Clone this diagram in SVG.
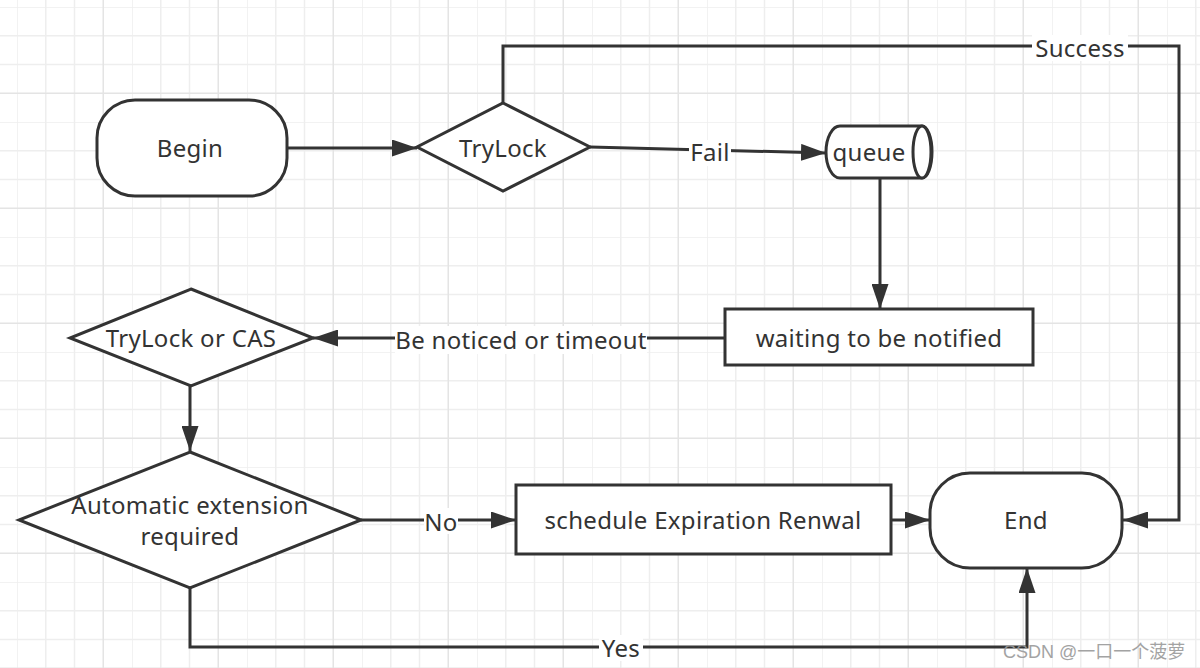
<svg xmlns="http://www.w3.org/2000/svg" width="1200" height="668" viewBox="0 0 1200 668">
  <defs>
    <pattern id="grid" patternUnits="userSpaceOnUse" x="17" y="7" width="115" height="115">
      <path d="M0 0V115M28.75 0V115M57.5 0V115M0 0H115M0 28.75H115M0 57.5H115" stroke="#eeeeee" stroke-width="1.5" fill="none"/>
      <path d="M86.25 0V115M0 86.25H115" stroke="#e4e4e4" stroke-width="1.5" fill="none"/>
    </pattern>
    <marker id="arrow" viewBox="0 0 25 17" refX="25" refY="8.5" markerWidth="25" markerHeight="17" markerUnits="userSpaceOnUse" orient="auto">
      <path d="M0 0L25 8.5L0 17Z" fill="#333"/>
    </marker>
    <style>
      .shape { fill: #fff; stroke: #333; stroke-width: 3; }
      .edge { fill: none; stroke: #333; stroke-width: 3; marker-end: url(#arrow); }
      .t { font-family: "Noto Sans", "Liberation Sans", sans-serif; font-size: 24px; letter-spacing: 0.3px; fill: #333; text-anchor: middle; }
      .lblbg { fill: #fff; }
    </style>
  </defs>
  <rect width="1200" height="668" fill="#fff"/>
  <rect width="1200" height="668" fill="url(#grid)"/>

  <g id="connectors">
    <path class="edge" d="M287 148H417"/>
    <path class="edge" d="M590 147L826 153"/>
    <path class="edge" d="M880 178V309"/>
    <path class="edge" d="M725 338H313"/>
    <path class="edge" d="M190 386V451"/>
    <path class="edge" d="M361 520H516"/>
    <path class="edge" d="M892 520H930"/>
    <path class="edge" d="M190 588V647H1027V568"/>
    <path class="edge" d="M503 103V46H1179V520H1123"/>
    <g id="labels">
      <rect class="lblbg" x="689" y="140" width="42" height="26"/>
      <text class="t" x="710" y="161">Fail</text>
      <rect class="lblbg" x="1032" y="35" width="96" height="26"/>
      <text class="t" x="1080" y="57">Success</text>
      <rect class="lblbg" x="395" y="326" width="252" height="28"/>
      <text class="t" x="521" y="349">Be noticed or timeout</text>
      <rect class="lblbg" x="424" y="508" width="34" height="26"/>
      <text class="t" x="441" y="531">No</text>
      <rect class="lblbg" x="599" y="635" width="44" height="26"/>
      <text class="t" x="621" y="657">Yes</text>
    </g>
  </g>

  <g id="begin">
    <rect class="shape" x="97" y="100" width="190" height="96" rx="38" ry="38"/>
    <text class="t" x="190" y="157">Begin</text>
  </g>
  <g id="trylock">
    <path class="shape" d="M503 103L590 147L503 191L417 147Z"/>
    <text class="t" x="503" y="157">TryLock</text>
  </g>
  <g id="queue">
    <path class="shape" d="M840 126H922A10 26 0 0 1 922 178H840A14 26 0 0 1 826 152A14 26 0 0 1 840 126Z"/>
    <ellipse class="shape" cx="922" cy="152" rx="9" ry="26"/>
    <text class="t" x="869" y="161">queue</text>
  </g>
  <g id="waiting">
    <rect class="shape" x="725" y="309" width="308" height="56"/>
    <text class="t" x="879" y="347">waiting to be notified</text>
  </g>
  <g id="cas">
    <path class="shape" d="M191 289L313 338L191 386L70 338Z"/>
    <text class="t" x="191" y="347">TryLock or CAS</text>
  </g>
  <g id="extension">
    <path class="shape" d="M190 452L361 520L190 588L19 520Z"/>
    <text class="t" x="190" y="514">Automatic extension</text>
    <text class="t" x="190" y="545">required</text>
  </g>
  <g id="schedule">
    <rect class="shape" x="516" y="485" width="375" height="69"/>
    <text class="t" x="703" y="529">schedule Expiration Renwal</text>
  </g>
  <g id="end">
    <rect class="shape" x="930" y="473" width="192" height="95" rx="40" ry="40"/>
    <text class="t" x="1026" y="529">End</text>
  </g>
  <text x="1003" y="658" style="font-family: 'Liberation Sans', 'Noto Sans CJK SC', sans-serif; font-size: 18px; fill: #9a9a9a; opacity: 0.9;">CSDN @一口一个菠萝</text>
</svg>
